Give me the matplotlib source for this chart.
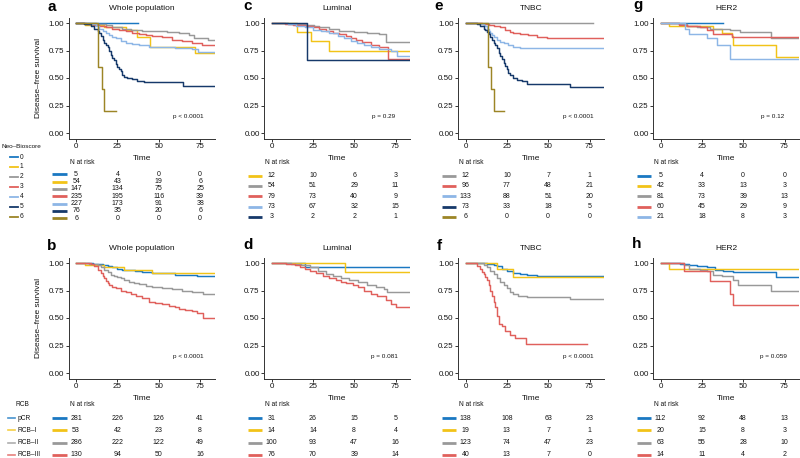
import matplotlib
matplotlib.use("Agg")
import matplotlib.pyplot as plt
from matplotlib.lines import Line2D

plt.rcParams["font.family"] = ["Liberation Sans", "DejaVu Sans"]

W, H = 800, 458

# ---------------- data ------------------------------------------------------
NEO_LABELS = ["0", "1", "2", "3", "4", "5", "6"]
NEO_COLORS = ["#1a78c2", "#f2c318", "#999999", "#e0605c", "#8db6e6", "#16396a", "#9c8526"]
RCB_LABELS = ["pCR", "RCB–I", "RCB–II", "RCB–III"]
RCB_COLORS = ["#1a78c2", "#f2c318", "#999999", "#e0605c"]
RISK_TIMES = [0, 25, 50, 75]

# a: whole population, Neo-Bioscore
A_GROUPS = [0, 1, 2, 3, 4, 5, 6]
A_TIMES = [
    [0, 37.5],
    [0, 5.6, 17, 30, 36.6, 44.8, 71.7, 90],
    [0, 12, 18, 22, 28, 33, 40, 46, 55, 62, 68, 71, 80, 90],
    [0, 6, 10, 14, 18, 22, 26, 30, 34, 38, 42, 46, 52, 58, 64, 70, 76, 90],
    [0, 8, 12, 14, 16, 18, 20, 22, 24, 27, 30, 34, 38, 44, 50, 60, 70, 74, 90],
    [0, 5, 9, 11, 13, 14, 15, 16, 17, 18, 19, 20, 21, 22, 23, 24, 25, 26, 27, 28, 29, 31, 34, 37, 41, 64.5, 90],
    [0, 13.4, 15.5, 17, 24.2],
]
A_SURV = [
    [1, 1],
    [1, .98, .96, .94, .87, .78, .73, .73],
    [1, .99, .98, .96, .95, .94, .93, .925, .92, .91, .89, .86, .85, .85],
    [1, .995, .985, .97, .96, .95, .94, .93, .91, .90, .89, .88, .87, .85, .84, .82, .80, .80],
    [1, .99, .97, .95, .93, .91, .89, .87, .86, .84, .82, .81, .80, .785, .78, .77, .76, .735, .73],
    [1, .99, .97, .95, .93, .91, .88, .85, .82, .80, .78, .75, .71, .68, .66, .63, .60, .58, .56, .53, .51, .50, .49, .47, .46, .43, .43],
    [1, .6, .4, .2, .2],
]
A_RISK = [[5, 4, 0, 0], [54, 43, 19, 6], [147, 134, 75, 25], [235, 195, 116, 39],
          [227, 173, 91, 38], [76, 35, 20, 6], [6, 0, 0, 0]]

# c: luminal, Neo-Bioscore
C_GROUPS = [1, 2, 3, 4, 5]
C_TIMES = [
    [0, 15.7, 24, 35, 90],
    [0, 10, 21, 26, 29, 35, 41, 50, 58, 65, 69, 90],
    [0, 8, 13, 20, 25, 29, 33, 37, 41, 45, 48, 51, 55, 60, 65, 70.5, 90],
    [0, 10, 15, 20, 25, 30, 35, 40, 44, 48, 52, 56, 60, 65, 72, 76, 90],
    [0, 21.5, 90],
]
C_SURV = [
    [1, .917, .833, .75, .75],
    [1, .99, .98, .97, .96, .95, .93, .92, .91, .90, .83, .83],
    [1, .99, .98, .97, .96, .95, .93, .91, .90, .88, .86, .85, .83, .80, .78, .67, .67],
    [1, .99, .97, .96, .94, .93, .91, .88, .86, .84, .82, .80, .78, .76, .75, .70, .70],
    [1, .667, .667],
]
C_RISK = [[12, 10, 6, 3], [54, 51, 29, 11], [79, 73, 40, 9], [73, 67, 32, 15], [3, 2, 2, 1]]

# e: TNBC, Neo-Bioscore
E_GROUPS = [2, 3, 4, 5, 6]
E_TIMES = [
    [0, 77],
    [0, 10, 14, 17, 21, 24, 27, 29, 33, 38, 43, 49, 90],
    [0, 8, 11, 12, 13, 14, 15, 16, 17, 19, 21, 23, 26, 29, 33, 36, 90],
    [0, 7, 9, 11, 12, 13, 14, 15, 16, 17, 18, 19, 20, 21, 22, 23, 24, 25, 26, 27, 29, 31, 34, 37, 63, 90],
    [0, 13.4, 15.4, 17, 23.4],
]
E_SURV = [
    [1, 1],
    [1, .99, .98, .97, .96, .94, .92, .91, .90, .89, .87, .86, .86],
    [1, .99, .98, .97, .95, .93, .91, .89, .87, .85, .83, .82, .80, .78, .775, .77, .77],
    [1, .99, .97, .95, .94, .92, .90, .87, .85, .82, .80, .77, .73, .70, .67, .64, .61, .58, .55, .53, .50, .48, .47, .45, .42, .42],
    [1, .6, .4, .2, .2],
]
E_RISK = [[12, 10, 7, 1], [96, 77, 48, 21], [133, 88, 51, 20], [73, 33, 18, 5], [6, 0, 0, 0]]

# g: HER2, Neo-Bioscore
G_GROUPS = [0, 1, 2, 3, 4]
G_TIMES = [
    [0, 38],
    [0, 5, 32, 37, 43, 44, 70, 90],
    [0, 11, 16, 22, 30, 42, 48, 67, 90],
    [0, 11, 16, 24, 28, 32, 43, 90],
    [0, 15, 17, 28, 34, 42, 90],
]
G_SURV = [
    [1, 1],
    [1, .976, .95, .91, .88, .80, .69, .69],
    [1, .99, .97, .96, .95, .94, .92, .865, .865],
    [1, .98, .97, .96, .94, .90, .87, .87],
    [1, .95, .90, .86, .80, .67, .67],
]
G_RISK = [[5, 4, 0, 0], [42, 33, 13, 3], [81, 73, 39, 13], [60, 45, 29, 9], [21, 18, 8, 3]]

# b: whole population, RCB
B_GROUPS = [0, 1, 2, 3]
B_TIMES = [
    [0, 10, 13, 16, 19, 22, 25, 28, 32, 35.5, 40, 46, 60, 73, 90],
    [0, 5.6, 17, 29, 46, 90],
    [0, 8, 11, 13, 15, 17, 19, 21, 23, 25, 27, 29, 32, 35, 38, 42, 46, 52, 58, 64, 70, 77, 90],
    [0, 9, 11, 13, 15, 16, 17, 18, 19, 20, 22, 24, 27, 30, 33, 36, 40, 44, 48, 52, 56, 60, 62, 66, 70, 73, 77, 90],
]
B_SURV = [
    [1, .995, .99, .98, .97, .96, .95, .94, .935, .925, .915, .905, .895, .885, .885],
    [1, .98, .96, .94, .905, .905],
    [1, .995, .99, .98, .96, .94, .92, .89, .88, .87, .86, .845, .83, .82, .81, .79, .78, .77, .76, .75, .74, .72, .72],
    [1, .99, .97, .94, .91, .88, .86, .84, .82, .80, .78, .77, .75, .74, .72, .70, .68, .65, .64, .63, .61, .60, .58, .57, .56, .55, .50, .50],
]
B_RISK = [[281, 226, 126, 41], [53, 42, 23, 8], [286, 222, 122, 49], [130, 94, 50, 16]]

# d: luminal, RCB
D_GROUPS = [0, 1, 2, 3]
D_TIMES = [
    [0, 20, 90],
    [0, 44.7, 90],
    [0, 12, 18, 23, 28, 33, 37, 42, 47, 52.6, 58, 63, 68, 70, 90],
    [0, 9, 14, 17, 20, 23, 27, 31, 35, 39, 42, 45, 49, 52.6, 56, 60, 64, 69, 72, 75, 90],
]
D_SURV = [
    [1, .965, .965],
    [1, .92, .92],
    [1, .99, .98, .96, .93, .90, .88, .86, .85, .83, .80, .78, .76, .74, .74],
    [1, .99, .98, .96, .95, .93, .91, .88, .86, .85, .83, .82, .80, .78, .75, .72, .70, .66, .63, .60, .60],
]
D_RISK = [[31, 26, 15, 5], [14, 14, 8, 4], [100, 93, 47, 16], [76, 70, 39, 14]]

# f: TNBC, RCB
F_GROUPS = [0, 1, 2, 3]
F_TIMES = [
    [0, 13, 17, 19, 22, 25, 29, 33, 37, 43, 90],
    [0, 19, 28.6, 90],
    [0, 11, 13, 15, 17, 19, 21, 23, 25, 27, 29, 32, 37, 63, 90],
    [0, 7, 9, 10, 11, 12, 13, 14, 15, 16, 17, 18, 19, 20, 22, 24, 27, 30, 36.6, 73.6],
]
F_SURV = [
    [1, .99, .98, .97, .95, .93, .91, .90, .89, .88, .88],
    [1, .947, .87, .87],
    [1, .98, .96, .93, .90, .86, .83, .80, .77, .74, .72, .70, .69, .67, .67],
    [1, .97, .95, .92, .90, .87, .85, .80, .75, .70, .65, .60, .52, .45, .43, .38, .35, .32, .26, .26],
]
F_RISK = [[138, 108, 63, 23], [19, 13, 7, 1], [123, 74, 47, 23], [40, 13, 7, 0]]

# h: HER2, RCB
H_GROUPS = [0, 1, 2, 3]
H_TIMES = [
    [0, 12, 17, 22, 28, 33, 38, 44, 70, 90],
    [0, 5, 90],
    [0, 14, 17, 24, 28, 32, 37, 44, 47, 67, 90],
    [0, 14, 30, 42, 43.6, 90],
]
H_SURV = [
    [1, .99, .98, .97, .96, .94, .93, .92, .87, .87],
    [1, .95, .95],
    [1, .98, .95, .94, .93, .89, .88, .85, .80, .75, .75],
    [1, .929, .84, .72, .62, .62],
]
H_RISK = [[112, 92, 48, 13], [20, 15, 8, 3], [63, 55, 28, 10], [14, 11, 4, 2]]

# ---------------- layout ----------------------------------------------------
COL_LEFT = [69, 264.4, 458.4, 653.4]
AX_W = 146
XLIM = (-4.3, 84)
ROW_Y = [(17.5, 138.5), (257.5, 378.5)]
TABLE_Y = [(171.5, 221.0), (413.1, 459.9)]
NRISK_Y = [163, 404]
LETTER_POS = {"a": (47, 11), "b": (47, 250), "c": (243, 10), "d": (243, 249),
              "e": (434, 10), "f": (437, 250), "g": (633, 9.5), "h": (632, 248)}
INK = "#141414"

fig = plt.figure(figsize=(W / 100, H / 100), dpi=100)


def rect(l, t, r, b):
    return [l / W, 1 - b / H, (r - l) / W, (b - t) / H]


def fx(px):
    return px / W


def fy(py):
    return 1 - py / H


def panel(letter, title, col, row, groups, colors, times, surv, risk, ptext):
    left = COL_LEFT[col]
    top, bot = ROW_Y[row]
    ax = fig.add_axes(rect(left, top, left + AX_W, bot))
    for g, t, s in zip(groups, times, surv):
        ax.step(t, s, where="post", color=colors[g], lw=1.05)
    ax.set_xlim(*XLIM)
    ax.set_ylim(-0.05, 1.05)
    ax.set_xticks(RISK_TIMES)
    ax.set_yticks([0, 0.25, 0.5, 0.75, 1.0])
    ax.set_yticklabels(["0.00", "0.25", "0.50", "0.75", "1.00"])
    for side in ("top", "right"):
        ax.spines[side].set_visible(False)
    for side in ("left", "bottom"):
        ax.spines[side].set_color("#333333")
        ax.spines[side].set_linewidth(0.7)
    ax.tick_params(labelsize=5.8, length=2.2, width=0.7, pad=1.2,
                   colors="#333333", labelcolor=INK)
    ax.text(0.5, 1 + 8.5 / 121, title, transform=ax.transAxes, ha="center",
            va="center", fontsize=6, color=INK)
    ax.text(0.5, -19.5 / 121, "Time", transform=ax.transAxes, ha="center",
            va="center", fontsize=6, color=INK)
    ax.text(68, 0.15, ptext, ha="center", va="center", fontsize=4.6, color=INK)
    lx, ly = LETTER_POS[letter]
    fig.text(fx(lx), fy(ly), letter, fontsize=11, fontweight="bold",
             ha="left", va="baseline", color="black")

    # risk table
    t0, t1 = TABLE_Y[row]
    tab = fig.add_axes(rect(left, t0, left + AX_W, t1))
    n = len(groups)
    tab.set_xlim(*XLIM)
    tab.set_ylim(n - 1 + 0.4, -0.4)
    tab.axis("off")
    for i, (g, vals) in enumerate(zip(groups, risk)):
        tab.plot([-14.5, -5.5], [i, i], color=colors[g], lw=2.0, clip_on=False,
                 solid_capstyle="butt")
        for tt, v in zip(RISK_TIMES, vals):
            tab.text(tt, i, str(v), ha="center", va="center", fontsize=5,
                     color=INK)
    x0 = left + (3.5 - XLIM[0]) / (XLIM[1] - XLIM[0]) * AX_W
    fig.text(fx(x0), fy(NRISK_Y[row]), "N at risk", ha="center", va="center",
             fontsize=4.8, color=INK)


panels = [
    ("a", "Whole population", 0, 0, A_GROUPS, NEO_COLORS, A_TIMES, A_SURV, A_RISK, "p < 0.0001"),
    ("c", "Luminal", 1, 0, C_GROUPS, NEO_COLORS, C_TIMES, C_SURV, C_RISK, "p = 0.29"),
    ("e", "TNBC", 2, 0, E_GROUPS, NEO_COLORS, E_TIMES, E_SURV, E_RISK, "p < 0.0001"),
    ("g", "HER2", 3, 0, G_GROUPS, NEO_COLORS, G_TIMES, G_SURV, G_RISK, "p = 0.12"),
    ("b", "Whole population", 0, 1, B_GROUPS, RCB_COLORS, B_TIMES, B_SURV, B_RISK, "p < 0.0001"),
    ("d", "Luminal", 1, 1, D_GROUPS, RCB_COLORS, D_TIMES, D_SURV, D_RISK, "p = 0.081"),
    ("f", "TNBC", 2, 1, F_GROUPS, RCB_COLORS, F_TIMES, F_SURV, F_RISK, "p < 0.0001"),
    ("h", "HER2", 3, 1, H_GROUPS, RCB_COLORS, H_TIMES, H_SURV, H_RISK, "p = 0.059"),
]
for p in panels:
    panel(*p)

# y labels
for yc in (78, 318):
    fig.text(fx(38), fy(yc), "Disease–free survival", rotation=90, ha="center",
             va="center", fontsize=6, color=INK)

# Neo-Bioscore legend
fig.text(fx(1), fy(147), "Neo–Bioscore", fontsize=4.6, ha="left", va="center", color=INK)
for i, (lab, c) in enumerate(zip(NEO_LABELS, NEO_COLORS)):
    y = fy(157 + 10 * i)
    fig.add_artist(Line2D([fx(10), fx(18)], [y, y], color=c, lw=1.3))
    fig.text(fx(20), y, lab, fontsize=4.8, ha="left", va="center", color=INK)

# RCB legend
fig.text(fx(15), fy(405), "RCB", fontsize=4.8, ha="left", va="center", color=INK)
for i, (lab, c) in enumerate(zip(RCB_LABELS, RCB_COLORS)):
    y = fy(418 + 12.33 * i)
    fig.add_artist(Line2D([fx(8), fx(15)], [y, y], color=c, lw=1.2, alpha=0.8))
    fig.text(fx(18), y, lab, fontsize=4.8, ha="left", va="center", color=INK)

fig.savefig("out.png", dpi=100)
